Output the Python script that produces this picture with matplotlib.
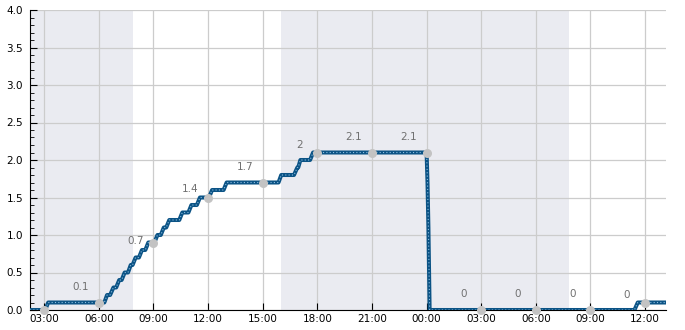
import matplotlib
matplotlib.use('Agg')
from matplotlib import pyplot as plt
import matplotlib.dates as mdates
from matplotlib.ticker import MultipleLocator
import pandas as pd

# cumulative reading, polyline vertices
times = ['2024-01-15 02:13', '2024-01-15 03:03', '2024-01-15 03:13', '2024-01-15 06:18',
         '2024-01-15 06:27', '2024-01-15 06:37', '2024-01-15 06:48', '2024-01-15 06:57',
         '2024-01-15 07:07', '2024-01-15 07:15', '2024-01-15 07:25', '2024-01-15 07:36',
         '2024-01-15 07:45', '2024-01-15 07:51', '2024-01-15 08:01', '2024-01-15 08:12',
         '2024-01-15 08:22', '2024-01-15 08:33', '2024-01-15 08:43', '2024-01-15 09:03',
         '2024-01-15 09:13', '2024-01-15 09:24', '2024-01-15 09:34', '2024-01-15 09:42',
         '2024-01-15 09:52', '2024-01-15 10:25', '2024-01-15 10:35', '2024-01-15 10:55',
         '2024-01-15 11:05', '2024-01-15 11:23', '2024-01-15 11:33', '2024-01-15 12:03',
         '2024-01-15 12:13', '2024-01-15 12:51', '2024-01-15 13:01', '2024-01-15 15:52',
         '2024-01-15 16:01', '2024-01-15 16:43', '2024-01-15 16:54', '2024-01-15 16:57',
         '2024-01-15 17:04', '2024-01-15 17:36', '2024-01-15 17:46', '2024-01-16 00:00',
         '2024-01-16 00:03', '2024-01-16 00:06', '2024-01-16 00:10', '2024-01-16 11:25',
         '2024-01-16 11:36', '2024-01-16 13:09']
values = [0.0, 0.0, 0.1, 0.1,
          0.2, 0.2, 0.3, 0.3,
          0.4, 0.4, 0.5, 0.5,
          0.6, 0.6, 0.7, 0.7,
          0.8, 0.8, 0.9, 0.9,
          1.0, 1.0, 1.1, 1.1,
          1.2, 1.2, 1.3, 1.3,
          1.4, 1.4, 1.5, 1.5,
          1.6, 1.6, 1.7, 1.7,
          1.8, 1.8, 1.9, 1.9,
          2.0, 2.0, 2.1, 2.1,
          1.7, 1.1, 0.0, 0.0,
          0.1, 0.1]

# 3-hourly marks and their labels
mark_times = ['2024-01-15 03:00', '2024-01-15 06:00', '2024-01-15 09:00', '2024-01-15 12:00',
              '2024-01-15 15:00', '2024-01-15 18:00', '2024-01-15 21:00', '2024-01-16 00:00',
              '2024-01-16 03:00', '2024-01-16 06:00', '2024-01-16 09:00', '2024-01-16 12:00']
mark_values = [0.0, 0.1, 0.9, 1.5, 1.7, 2.1, 2.1, 2.1, 0.0, 0.0, 0.0, 0.1]
mark_labels = ['', '0.1', '0.7', '1.4', '1.7', '2', '2.1', '2.1', '0', '0', '0', '0']
label_dy = [16, 16, 2, 8, 16, 8, 16, 16, 16, 16, 16, 8]

# night shading
night_start = ['2024-01-15 02:13', '2024-01-15 16:00']
night_end = ['2024-01-15 07:51', '2024-01-16 07:49']

t = pd.to_datetime(times)
mt = pd.to_datetime(mark_times)

fig = plt.figure(figsize=(6.85, 3.30), dpi=100)
ax = fig.add_axes([30 / 685, 20 / 330, 636 / 685, 300 / 330])

for s, e in zip(night_start, night_end):
    ax.axvspan(pd.Timestamp(s), pd.Timestamp(e), color='#eaebf1', lw=0, zorder=0.1)

ax.set_axisbelow(True)
ax.grid(True, color='#cccccc', lw=0.9)

ax.plot(t, values, color='#0b5385', lw=2.9, solid_capstyle='butt', zorder=3)
ax.plot(t, values, color='#8cbde0', lw=0.8, ls=(0, (1, 2)), zorder=3.1)

ax.plot(mt, mark_values, ls='none', marker='o', ms=6.5, color='#c3c3c3',
        mec='none', zorder=4, clip_on=False)
for x, y, lab, dy in zip(mt, mark_values, mark_labels, label_dy):
    ax.annotate(lab, (x, y), xytext=(-18, dy), textcoords='offset pixels',
                ha='center', va='center', fontsize=7.5, color='#707070')

ax.set_xlim(t[0], t[-1])
ax.set_ylim(0, 4)
ax.yaxis.set_major_locator(MultipleLocator(0.5))
ax.yaxis.set_minor_locator(MultipleLocator(0.1))
ax.yaxis.set_major_formatter(matplotlib.ticker.FormatStrFormatter('%.1f'))
ax.xaxis.set_major_locator(mdates.HourLocator(byhour=[0, 3, 6, 9, 12, 15, 18, 21]))
ax.xaxis.set_major_formatter(mdates.DateFormatter('%H:%M'))

for side in ['top', 'right']:
    ax.spines[side].set_visible(False)
ax.spines['left'].set_linewidth(0.8)
ax.spines['bottom'].set_linewidth(0.8)
ax.tick_params(axis='both', which='major', direction='in', length=5, width=0.8,
               labelsize=7.5, color='black')
ax.tick_params(axis='y', which='minor', direction='in', length=3, width=0.6)
ax.tick_params(axis='y', which='major', pad=5)
ax.tick_params(axis='x', which='major', pad=3)

fig.savefig('out.png', dpi=100)
